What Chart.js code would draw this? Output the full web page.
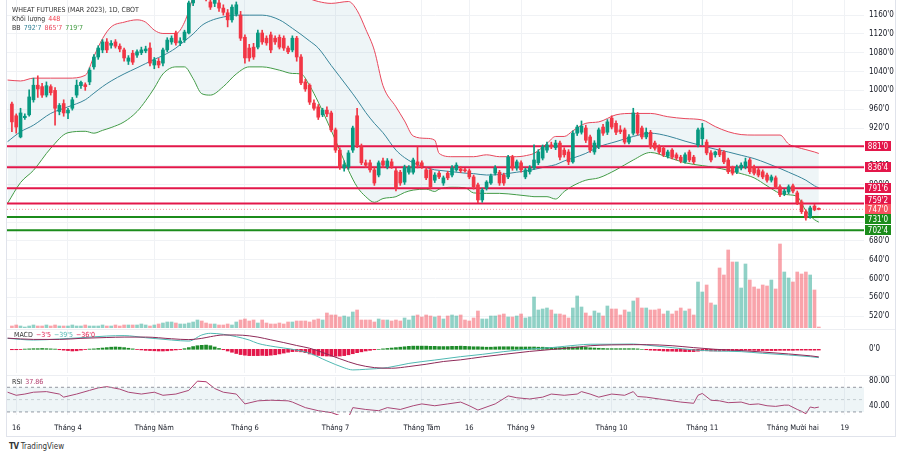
<!DOCTYPE html>
<html lang="vi">
<head>
<meta charset="utf-8">
<title>WHEAT FUTURES (MAR 2023), 1D, CBOT</title>
<script src="https://cdn.jsdelivr.net/npm/chart.js@4.4.1/dist/chart.umd.min.js"></script>
<style>
  html, body { margin: 0; padding: 0; background: #fff; }
  #wrap { position: relative; width: 911px; height: 453px; overflow: hidden; background: #fff;
          font-family: 'Liberation Sans Narrow', 'DejaVu Sans Condensed', Roboto, sans-serif; color: #131722; }
  canvas { position: absolute; left: 0; }
  .frame { position: absolute; left: 6px; top: -1px; width: 890px; height: 438px; border: 1px solid #e0e3eb; box-sizing: border-box; }
  .sep { position: absolute; left: 7px; width: 888px; height: 1px; background: #eceef2; }
  .legend { position: absolute; left: 12px; font-size: 7px; line-height: 9px; white-space: nowrap; color: #333; }
  .legend span { margin-left: 3px; }
</style>
</head>
<body>
<div id="wrap">
  <canvas id="main" width="911" height="329" style="top:0"></canvas>
  <canvas id="macd" width="911" height="46" style="top:329px"></canvas>
  <canvas id="rsi" width="911" height="67" style="top:375px"></canvas>
  <div class="sep" style="top:329px"></div>
  <div class="sep" style="top:375px"></div>
  <div class="frame"></div>
  <div class="legend" style="top:6px">WHEAT FUTURES (MAR 2023), 1D, CBOT</div>
  <div class="legend" style="top:15px">Khối lượng<span id="lgVol" style="color:#f23645"></span></div>
  <div class="legend" style="top:24px">BB<span id="lgMid" style="color:#2f7f95"></span><span id="lgUp" style="color:#e8475c"></span><span id="lgLow" style="color:#3f9a3f"></span></div>
  <div class="legend" style="top:331px;left:14px">MACD<span id="lgHist" style="color:#e3174a"></span><span id="lgMacd" style="color:#4fb8b2"></span><span id="lgSig" style="color:#e3174a"></span></div>
  <div class="legend" style="top:378px">RSI<span id="lgRsi" style="color:#b0376a"></span></div>
  <div class="legend" style="top:442px;left:9px;font-size:8px"><b style="letter-spacing:-0.5px">TV</b> TradingView</div>
</div>
<script>
const FONT = "'Liberation Sans Narrow', 'DejaVu Sans Condensed', Roboto, sans-serif";
const UP = '#089981', DOWN = '#f23645';
const UP_VOL = 'rgba(8,153,129,0.45)', DOWN_VOL = 'rgba(242,54,69,0.45)';
const BAND_FILL = 'rgba(120,175,195,0.13)';
const X_MIN = -1.136, X_MAX = 197.47;

// bar index 0 = 15 Mar 2022 ... 187 = 9 Dec 2022
const xTickIdx = [1, 13, 33, 54, 75, 95, 106, 118, 139, 160, 181, 193];
const xTickText = ['16', 'Tháng 4', 'Tháng Năm', 'Tháng 6', 'Tháng 7', 'Tháng Tám', '16', 'Tháng 9', 'Tháng 10', 'Tháng 11', 'Tháng Mười hai', '19'];

const opens = [
  971, 946, 901, 942, 948, 980, 1011, 1008, 990, 1008,
  1000, 955, 972, 952, 962, 990, 1010, 1012, 1018, 1050,
  1071, 1086, 1103, 1096, 1103, 1094, 1086, 1062, 1079, 1075,
  1080, 1084, 1090, 1054, 1062, 1058, 1086, 1103, 1122, 1101,
  1107, 1122, 1186, 1210, 1232, 1215, 1188, 1185, 1186, 1175,
  1165, 1150, 1162, 1160, 1113, 1090, 1092, 1092, 1122, 1111,
  1118, 1111, 1113, 1111, 1090, 1086, 1111, 1071, 1018, 1011,
  973, 965, 948, 958, 952, 916, 873, 835, 837, 873,
  946, 880, 846, 846, 831, 820, 850, 837, 848, 829,
  826, 805, 826, 826, 848, 846, 831, 831, 809, 824,
  803, 824, 820, 831, 833, 830, 829, 816, 799, 767,
  792, 803, 824, 826, 820, 816, 858, 835, 846, 816,
  827, 835, 846, 856, 873, 884, 878, 888, 873, 869,
  848, 909, 911, 920, 901, 869, 880, 922, 911, 941,
  930, 916, 916, 890, 909, 948, 920, 901, 911, 888,
  880, 877, 860, 873, 863, 858, 848, 869, 858, 884,
  897, 890, 867, 863, 873, 869, 852, 835, 827, 835,
  837, 852, 837, 831, 827, 820, 809, 814, 795, 780,
  784, 797, 782, 763, 742, 731, 754, 748
];
const highs = [
  975, 950, 962, 950, 1001, 1026, 1031, 1015, 1018, 1012,
  1006, 972, 980, 962, 985, 1022, 1020, 1016, 1048, 1076,
  1095, 1108, 1110, 1106, 1108, 1099, 1090, 1074, 1085, 1086,
  1092, 1094, 1101, 1070, 1068, 1090, 1112, 1116, 1126, 1112,
  1128, 1190, 1215, 1245, 1240, 1222, 1198, 1200, 1195, 1182,
  1172, 1182, 1188, 1168, 1118, 1098, 1100, 1128, 1128, 1116,
  1124, 1116, 1118, 1116, 1094, 1116, 1115, 1076, 1024, 1014,
  980, 970, 962, 965, 956, 920, 878, 850, 872, 924,
  962, 886, 852, 852, 836, 850, 856, 855, 854, 834,
  830, 841, 840, 856, 880, 850, 836, 834, 825, 828,
  818, 828, 840, 846, 838, 834, 833, 820, 803, 792,
  808, 822, 840, 830, 824, 862, 862, 852, 850, 835,
  840, 884, 874, 884, 890, 890, 894, 892, 878, 874,
  914, 926, 935, 926, 905, 893, 920, 928, 938, 946,
  935, 925, 920, 906, 962, 953, 924, 920, 915, 892,
  884, 881, 873, 876, 867, 862, 867, 873, 862, 920,
  930, 895, 872, 871, 877, 872, 856, 839, 841, 846,
  856, 856, 841, 835, 831, 824, 820, 818, 799, 790,
  799, 801, 786, 767, 746, 754, 758, 750
];
const lows = [
  912, 909, 899, 938, 945, 975, 985, 985, 986, 990,
  926, 948, 945, 940, 958, 985, 1004, 1000, 1012, 1045,
  1066, 1080, 1080, 1090, 1090, 1082, 1062, 1055, 1055, 1070,
  1076, 1080, 1052, 1046, 1048, 1052, 1082, 1098, 1096, 1095,
  1102, 1120, 1180, 1205, 1210, 1190, 1172, 1178, 1168, 1160,
  1135, 1145, 1158, 1106, 1058, 1062, 1066, 1088, 1098, 1096,
  1080, 1098, 1088, 1085, 1078, 1082, 1062, 1012, 998, 970,
  958, 938, 944, 944, 912, 868, 832, 828, 832, 868,
  878, 842, 836, 826, 798, 816, 836, 833, 834, 786,
  798, 800, 822, 822, 835, 834, 810, 790, 804, 812,
  798, 810, 816, 828, 825, 826, 812, 790, 761, 762,
  788, 800, 820, 798, 798, 812, 830, 830, 826, 812,
  822, 832, 842, 852, 868, 876, 874, 852, 858, 842,
  845, 904, 907, 889, 868, 864, 876, 904, 906, 918,
  906, 908, 886, 886, 905, 905, 897, 897, 876, 873,
  865, 859, 856, 854, 852, 846, 845, 848, 844, 880,
  884, 863, 848, 858, 859, 844, 823, 820, 823, 831,
  833, 823, 820, 816, 812, 805, 805, 791, 774, 776,
  780, 782, 757, 738, 724, 728, 744, 746
];
const closes = [
  933, 922, 952, 945, 986, 1011, 1003, 990, 1010, 995,
  962, 968, 952, 958, 980, 1011, 1017, 1008, 1043, 1071,
  1090, 1103, 1086, 1100, 1094, 1088, 1069, 1069, 1060, 1082,
  1086, 1088, 1058, 1065, 1054, 1086, 1107, 1111, 1101, 1105,
  1124, 1186, 1210, 1235, 1215, 1195, 1177, 1192, 1175, 1166,
  1150, 1177, 1182, 1111, 1069, 1069, 1071, 1122, 1103, 1101,
  1086, 1103, 1092, 1090, 1082, 1111, 1071, 1016, 1003, 975,
  962, 943, 958, 950, 916, 873, 837, 842, 867, 920,
  884, 846, 841, 831, 803, 846, 841, 850, 839, 792,
  803, 837, 837, 852, 841, 839, 814, 795, 820, 816,
  814, 814, 835, 841, 829, 829, 816, 795, 767, 788,
  805, 818, 835, 803, 803, 858, 835, 848, 831, 831,
  835, 852, 869, 880, 884, 880, 888, 858, 863, 848,
  909, 922, 924, 894, 873, 888, 916, 909, 933, 922,
  911, 912, 890, 901, 952, 909, 901, 911, 880, 877,
  869, 863, 869, 858, 856, 850, 863, 852, 848, 916,
  920, 867, 852, 869, 863, 848, 827, 824, 837, 841,
  848, 827, 824, 820, 816, 809, 816, 795, 778, 786,
  795, 786, 761, 742, 729, 750, 746, 747
];
const volumes = [
  900, 1350, 900, 450, 900, 1350, 900, 900, 1350, 900, 1350, 900,
  900, 900, 1350, 900, 900, 1350, 900, 900, 900, 1350, 900, 900, 1350, 900,
  1350, 1350, 1350, 1350, 1800, 1350, 900, 1350,
  1800, 2250, 2700, 2700, 2250, 1800,
  1800, 2250, 2700, 3600, 3150, 2250,
  1800, 1800, 1350, 1350, 1800, 1350,
  2700, 3600, 4050, 3150, 3600, 2250,
  3600, 2250, 1800, 1800, 2250, 1800, 2700, 2700, 3150,
  3150, 3150, 2700, 3600, 4050, 3600,
  6750, 5850, 5850, 4950, 5400, 4950, 7200, 8100,
  3600, 3600, 3600, 2700, 4050, 3600,
  3600, 3150, 3600, 3150, 4500, 3600, 5400, 5850, 4950, 5850,
  5400, 4950, 5400, 4050, 5400, 5850, 5400, 5850, 3600, 3150,
  4500, 7650, 4050, 4050, 5400, 5400, 5850, 6300, 4950, 4950,
  5400, 6300, 4500, 4950, 13950, 8100, 8550, 9000, 8100, 6300,
  6300, 5850, 4500, 9000, 14400, 9450, 6750, 5400, 7650, 6750,
  5400, 9900, 8550, 8550, 5850, 8100, 7200, 12150, 13500, 9000,
  9000, 8100, 8100, 8550, 6300, 7650, 6300, 7650, 9000, 7650,
  8550, 5850,
  20700, 16200, 19350, 11250, 10350, 27000, 23850, 35100, 29700, 29700,
  18000, 28800, 21600, 18450, 17550, 19350, 18900, 21600, 17550, 37800,
  25200, 22500, 20700, 25200, 24300, 25200, 23850, 17100, 448
];

// Bollinger bands (20, 2), read at these bar indexes
const bbIdx = [-1, 2, 5, 9, 13, 17, 19, 21, 23, 26, 29, 31, 33, 35, 38, 40, 42, 44, 46, 49,
  52, 55, 58, 62, 65, 67, 69, 71, 74, 78, 80, 82, 84, 86, 89, 91, 93, 96, 98, 99,
  102, 105, 107, 110, 113, 117, 120, 121, 124, 126, 128, 130, 133, 136, 140, 144, 148, 152, 156, 160,
  163, 166, 169, 172, 175, 178, 180, 182, 184, 186, 187];
const bbUpper = [1022, 1020, 1026, 1026, 1026, 1032, 1072, 1110, 1135, 1145, 1150, 1145, 1128, 1121, 1121, 1145, 1200, 1270, 1300, 1305,
  1290, 1275, 1270, 1255, 1228, 1205, 1195, 1189, 1185, 1189, 1170, 1130, 1085, 1010, 965, 935, 903, 898, 894, 866,
  859, 859, 859, 863, 859, 859, 863, 866, 887, 902, 902, 914, 930, 933, 948, 951, 951, 944, 940, 937,
  923, 912, 906, 905, 905, 905, 886, 879, 874, 869, 865.875];
const bbMiddle = [891, 912, 926, 951, 965, 980, 994, 1008, 1020, 1035, 1048, 1057, 1066, 1074, 1090, 1105, 1120, 1138, 1148, 1156,
  1160, 1160, 1160, 1150, 1132, 1119, 1105, 1090, 1053, 1005, 980, 953, 930, 910, 873, 857, 846, 836, 831, 830,
  827, 824, 823, 820, 821, 826, 830, 832, 838, 842, 850, 856, 866, 880, 891, 902, 909, 903, 892, 882,
  875, 869, 862, 855, 845, 834, 826, 818, 809, 797, 792.875];
const bbLower = [760, 804, 830, 877, 910, 913, 909, 915, 921, 933, 955, 978, 1005, 1035, 1050, 1050, 1025, 993, 990, 1008,
  1035, 1050, 1050, 1043, 1036, 1035, 1010, 975, 915, 830, 795, 774, 762, 770, 774, 783, 788, 790, 785, 790,
  794, 793, 782, 781, 781, 778, 775, 774, 774, 769, 785, 797, 809, 814, 831, 852, 868, 858, 846, 840,
  836, 830, 823, 814, 797, 781, 778, 774, 744, 725, 719.875];

// horizontal levels drawn on the chart
const levels = [881, 836.5, 791.75, 759.25, 747, 731, 702.5];
const levelLineColors = ['#e3174a', '#e3174a', '#e3174a', '#e3174a', 'rgba(242,54,69,0.55)', '#1b8c1b', '#1b8c1b'];
const levelTagColors = ['#e3174a', '#e3174a', '#e3174a', '#e3174a', '#f7525f', '#1b8c1b', '#1b8c1b'];
const priceTicks = [520, 560, 600, 640, 680, 720, 760, 800, 840, 880, 920, 960, 1000, 1040, 1080, 1120, 1160];

// MACD (12, 26, 9)
const macdIdx = [-1, 5, 11, 16, 22, 26, 31, 37, 41, 44, 46, 49, 52, 55, 57, 61, 65, 69, 73, 77,
  79, 82, 87, 92, 98, 104, 109, 114, 120, 125, 131, 134, 139, 144, 147, 153, 158, 163, 169, 174,
  180, 185, 187];
const macdLine = [52, 44, 49, 55, 63, 65, 55, 44, 39, 68, 76, 71, 60, 44, 28, 12, 0, -19, -55, -88,
  -98, -95, -87, -67, -51, -35, -24, -11, 1, 8, 20, 24, 24, 25, 20, 8, -3, -8, -11, -19,
  -27, -35, -39.625];
const signalIdx = [-1, 5, 11, 16, 22, 26, 31, 37, 41, 44, 46, 49, 52, 55, 57, 60, 63, 66, 69, 72,
  76, 80, 84, 88, 92, 96, 100, 104, 109, 114, 120, 125, 131, 134, 139, 144, 147, 153, 158, 163,
  169, 174, 180, 185, 187];
const signalLine = [53, 47, 47, 52, 56, 58, 58, 50, 46, 52, 60, 68, 68, 64, 58, 45, 32, 18, 5, -15,
  -45, -72, -87, -90, -82, -71, -58, -50, -36, -24, -10, -1, 10, 17, 21, 22, 22, 17, 8, 0,
  -6, -13, -22, -31, -36];
const macdHist = [
  -2, -2, -1, 1, 2, 3, 3, 4, 3, 2,
  1, -2, -4, -6, -8, -7, -4, -1, 1, 2,
  4, 6, 8, 10, 11, 10, 8, 5, 2, -1,
  -3, -5, -6, -7, -8, -8, -7, -5, -3, -1,
  3, 8, 13, 17, 19, 20, 17, 11, 4, -2,
  -8, -14, -20, -25, -28, -30, -30, -30, -29, -30,
  -28, -26, -22, -18, -14, -11, -10, -12, -16, -22,
  -26, -29, -31, -32, -33, -33, -32, -30, -26, -21,
  -16, -12, -8, -5, -2, 0, 2, 4, 6, 8,
  10, 12, 14, 15, 15, 15, 15, 14, 14, 13,
  13, 13, 14, 14, 15, 14, 13, 12, 12, 11,
  10, 10, 11, 12, 12, 12, 12, 11, 11, 11,
  11, 11, 10, 10, 9, 9, 8, 8, 9, 10,
  11, 11, 10, 9, 7, 6, 5, 4, 3, 3,
  3, 3, 3, 3, 3, 2, 0, -2, -4, -5,
  -6, -8, -9, -9, -10, -10, -11, -11, -11, -9,
  -7, -7, -8, -8, -8, -7, -6, -6, -5, -5,
  -4, -5, -5, -6, -6, -6, -6, -6, -5, -5,
  -5, -5, -4, -4, -4, -4, -4, -3.625
];

// RSI (14)
const rsiIdx = [-1, 1, 3, 5, 8, 11, 12, 15, 18, 20, 22, 25, 27, 30, 33, 35, 38, 41, 43, 45,
  47, 49, 52, 54, 57, 60, 64, 65, 68, 71, 74, 76, 78, 79, 82, 85, 87, 90, 93, 95,
  98, 101, 104, 106, 108, 112, 115, 117, 120, 123, 125, 128, 131, 132, 134, 136, 139, 142, 144, 145,
  147, 150, 153, 155, 158, 159, 160, 162, 164, 166, 169, 171, 173, 175, 177, 179, 180, 182, 183, 184,
  185, 186, 187];
const rsiLine = [62, 57, 59, 62, 63, 59, 54, 59, 65, 69, 71, 67, 62, 59, 62, 57, 59, 65, 80, 79,
  68, 62, 59, 43, 48, 49, 48, 46, 37, 32, 29, 24, 21, 37, 34, 32, 37, 34, 40, 43,
  40, 43, 46, 40, 33, 43, 56, 53, 51, 54, 59, 57, 59, 63, 59, 54, 59, 57, 63, 55,
  54, 51, 48, 46, 44, 57, 60, 49, 48, 45, 46, 42, 43, 40, 39, 41, 41, 34, 31, 27,
  38, 36.5, 37.86];
const rsiBands = [70, 50, 30];
const rsiTicks = [40, 80];

// ---------- helpers ----------
const pts = (xs, ys) => xs.map((x, k) => ({ x, y: ys[k] }));
const flat = v => [{ x: X_MIN, y: v }, { x: X_MAX, y: v }];
const fmt = v => {
  const s = v < 0 ? '−' : '';
  const a = Math.abs(v), w = Math.floor(a);
  return s + w + "'" + Math.round((a - w) * 8);
};
const isUp = i => closes[i] >= opens[i];
const last = closes.length - 1;
const tickFont = { family: FONT, size: 8 };

function xScale(showLabels) {
  return {
    type: 'linear', min: X_MIN, max: X_MAX, offset: false,
    afterBuildTicks: ax => { ax.ticks = xTickIdx.map(value => ({ value })); },
    afterFit: ax => { ax.paddingLeft = 0; ax.paddingRight = 0; },
    grid: { color: '#f0f2f5', drawTicks: false, offset: false },
    border: { display: false },
    ticks: {
      display: showLabels, autoSkip: false, maxRotation: 0, padding: 9,
      color: '#131722', font: { family: FONT, size: 7.5 },
      callback: v => xTickText[xTickIdx.indexOf(v)]
    }
  };
}

function yRight(min, max, ticks, label, showGrid) {
  return {
    position: 'right', min, max,
    afterBuildTicks: ax => { ax.ticks = ticks.map(value => ({ value })); },
    afterFit: ax => { ax.width = 33; ax.paddingTop = 0; ax.paddingBottom = 0; },
    grid: { display: showGrid, color: '#f0f2f5', drawTicks: false },
    border: { display: false },
    ticks: { padding: 5, color: '#131722', font: tickFont, callback: label }
  };
}

const baseOptions = {
  responsive: false,
  animation: false,
  devicePixelRatio: 1,
  events: [],
  plugins: { legend: { display: false }, tooltip: { enabled: false } }
};

// price tags for the horizontal levels; the last-price tag stays put, the others move apart from it
const levelTags = {
  id: 'levelTags',
  afterDraw(chart) {
    const { ctx, chartArea, scales: { y } } = chart;
    const tagY = levels.map(v => y.getPixelForValue(v));
    const fixed = levels.indexOf(closes[last]);
    for (let k = fixed - 1; k >= 0; k--) tagY[k] = Math.min(tagY[k], tagY[k + 1] - 9.5);
    for (let k = fixed + 1; k < levels.length; k++) tagY[k] = Math.max(tagY[k], tagY[k - 1] + 9.5);
    ctx.save();
    ctx.font = `8px ${FONT}`;
    ctx.textAlign = 'center';
    ctx.textBaseline = 'middle';
    levels.forEach((v, k) => {
      const py = Math.round(tagY[k]);
      ctx.fillStyle = levelTagColors[k];
      ctx.fillRect(chartArea.right + 1, py - 5, 26, 10);
      ctx.fillStyle = '#fff';
      ctx.fillText(fmt(v), chartArea.right + 14, py + 0.5);
    });
    ctx.restore();
  }
};

// ---------- main pane: candles, BB, volume ----------
new Chart(document.getElementById('main'), {
  type: 'bar',
  data: {
    datasets: [
      { type: 'line', data: pts(bbIdx, bbUpper), borderColor: '#e8475c', borderWidth: 1, pointRadius: 0,
        cubicInterpolationMode: 'monotone', fill: '+2', backgroundColor: BAND_FILL, order: 5 },
      { type: 'line', data: pts(bbIdx, bbMiddle), borderColor: '#2f7f95', borderWidth: 1, pointRadius: 0,
        cubicInterpolationMode: 'monotone', fill: false, order: 5 },
      { type: 'line', data: pts(bbIdx, bbLower), borderColor: '#3f9a3f', borderWidth: 1, pointRadius: 0,
        cubicInterpolationMode: 'monotone', fill: false, order: 5 },
      { data: volumes.map((v, i) => ({ x: i, y: v })), yAxisID: 'vol', grouped: false, barThickness: 3,
        backgroundColor: c => isUp(c.dataIndex) ? UP_VOL : DOWN_VOL, order: 9 },
      ...levels.map((v, k) => ({
        type: 'line', data: flat(v), borderColor: levelLineColors[k], borderWidth: k === 4 ? 1 : 2,
        borderDash: k === 4 ? [1, 2] : [], pointRadius: 0, fill: false, order: 3
      })),
      { data: highs.map((h, i) => ({ x: i, y: [lows[i], h] })), grouped: false, barThickness: 1,
        backgroundColor: c => isUp(c.dataIndex) ? UP : DOWN, order: 2 },
      { data: opens.map((o, i) => ({ x: i, y: [o, closes[i]] })), grouped: false, barThickness: 3, minBarLength: 1,
        backgroundColor: c => isUp(c.dataIndex) ? UP : DOWN, order: 1 }
    ]
  },
  options: {
    ...baseOptions,
    layout: { padding: { left: 7, right: 14, top: 0, bottom: 1 } },
    scales: {
      x: xScale(false),
      y: yRight(494.7, 1192.2, priceTicks, v => fmt(v), true),
      vol: { display: false, min: 0, max: 147600 }
    }
  },
  plugins: [levelTags]
});

// ---------- MACD pane ----------
new Chart(document.getElementById('macd'), {
  type: 'bar',
  data: {
    datasets: [
      { data: macdHist.map((v, i) => ({ x: i, y: v })), grouped: false, barThickness: 3,
        backgroundColor: c => c.raw && c.raw.y >= 0 ? '#1e8c2a' : '#e3174a', order: 3 },
      { type: 'line', data: pts(macdIdx, macdLine), borderColor: '#4fb8b2', borderWidth: 1, pointRadius: 0,
        cubicInterpolationMode: 'monotone', order: 2 },
      { type: 'line', data: pts(signalIdx, signalLine), borderColor: '#8e2a58', borderWidth: 1, pointRadius: 0,
        cubicInterpolationMode: 'monotone', order: 1 }
    ]
  },
  options: {
    ...baseOptions,
    layout: { padding: { left: 7, right: 14, top: 1, bottom: 2 } },
    scales: {
      x: xScale(false),
      y: yRight(-112.6, 91.7, [0], v => fmt(v), false)
    }
  }
});

// ---------- RSI pane ----------
new Chart(document.getElementById('rsi'), {
  type: 'line',
  data: {
    datasets: [
      { data: flat(rsiBands[0]), borderColor: '#9598a1', borderWidth: 1, borderDash: [3, 3], pointRadius: 0,
        fill: '+2', backgroundColor: BAND_FILL },
      { data: flat(rsiBands[1]), borderColor: 'rgba(149,152,161,0.45)', borderWidth: 1, borderDash: [3, 3], pointRadius: 0 },
      { data: flat(rsiBands[2]), borderColor: '#9598a1', borderWidth: 1, borderDash: [3, 3], pointRadius: 0 },
      { data: pts(rsiIdx, rsiLine), borderColor: '#b0376a', borderWidth: 1, pointRadius: 0 }
    ]
  },
  options: {
    ...baseOptions,
    layout: { padding: { left: 7, right: 14, top: 2, bottom: 0 } },
    scales: {
      x: xScale(true),
      y: yRight(25, 86.7, rsiTicks, v => v.toFixed(2), false)
    }
  }
});

// legend values from the data
document.getElementById('lgVol').textContent = volumes[last];
document.getElementById('lgMid').textContent = fmt(bbMiddle[bbMiddle.length - 1]);
document.getElementById('lgUp').textContent = fmt(bbUpper[bbUpper.length - 1]);
document.getElementById('lgLow').textContent = fmt(bbLower[bbLower.length - 1]);
document.getElementById('lgHist').textContent = fmt(macdHist[last]);
document.getElementById('lgMacd').textContent = fmt(macdLine[macdLine.length - 1]);
document.getElementById('lgSig').textContent = fmt(signalLine[signalLine.length - 1]);
document.getElementById('lgRsi').textContent = rsiLine[rsiLine.length - 1].toFixed(2);
</script>
</body>
</html>
